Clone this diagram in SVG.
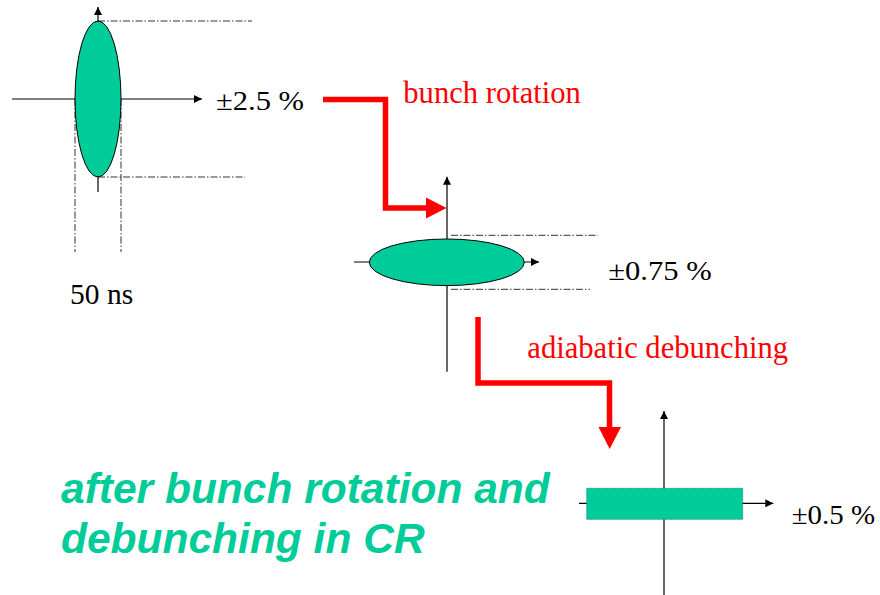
<svg xmlns="http://www.w3.org/2000/svg" width="880" height="595" viewBox="0 0 880 595">
<style>
.axis{stroke:#000;stroke-width:1.2;fill:none}
.dd{stroke:#333;stroke-width:1;stroke-dasharray:7 2 1.5 2;fill:none}
.bunch{fill:#00CC99;stroke:#000;stroke-width:1}
.lbl{font-family:"Liberation Serif","Times New Roman",serif;fill:#000}
.red{font-family:"Liberation Serif","Times New Roman",serif;fill:#FF0000;font-size:30.6px}
.flow{stroke:#FF0000;stroke-width:5.5;fill:none;stroke-linejoin:miter}
.head{fill:#FF0000}
.title{font-family:"Liberation Sans",Arial,sans-serif;font-weight:bold;font-style:italic;font-size:42.5px;fill:#00CC99}
</style>
<defs>
<marker id="ah" viewBox="0 0 8 8" refX="8" refY="4" markerWidth="8" markerHeight="8" markerUnits="userSpaceOnUse" orient="auto">
<path d="M0,0 L8,4 L0,8 Z" fill="#000"/>
</marker>
</defs>
<rect width="880" height="595" fill="#fff"/>

<g id="bunch-initial">
<line class="dd" x1="98" y1="21" x2="252" y2="21"/>
<line class="dd" x1="98" y1="177" x2="245" y2="177"/>
<line class="dd" x1="75" y1="99" x2="75" y2="252"/>
<line class="dd" x1="121" y1="99" x2="121" y2="252"/>
<line class="axis" x1="12" y1="99" x2="202" y2="99" marker-end="url(#ah)"/>
<line class="axis" x1="98" y1="192" x2="98" y2="7" marker-end="url(#ah)"/>
<ellipse class="bunch" cx="98" cy="99" rx="23" ry="78"/>
<text class="lbl" x="216" y="110" font-size="28" textLength="88" lengthAdjust="spacingAndGlyphs">±2.5 %</text>
<text class="lbl" x="70" y="304.3" font-size="29.5">50 ns</text>
</g>

<g id="bunch-rotated">
<line class="dd" x1="451" y1="235.3" x2="598" y2="235.3"/>
<line class="dd" x1="451" y1="289.3" x2="590" y2="289.3"/>
<line class="axis" x1="354" y1="262" x2="539" y2="262" marker-end="url(#ah)"/>
<line class="axis" x1="447" y1="371.7" x2="447" y2="176.7" marker-end="url(#ah)"/>
<ellipse class="bunch" cx="446.8" cy="262.3" rx="77.5" ry="23.3"/>
<text class="lbl" x="608.3" y="279.5" font-size="28" textLength="103.4" lengthAdjust="spacingAndGlyphs">±0.75 %</text>
</g>

<g id="bunch-debunched">
<line class="axis" x1="579" y1="503.3" x2="773.3" y2="503.3" marker-end="url(#ah)"/>
<line class="axis" x1="664" y1="595" x2="664" y2="411" marker-end="url(#ah)"/>
<rect x="586.7" y="488.3" width="156" height="31" fill="#00CC99" stroke="#008866" stroke-width="1" stroke-dasharray="1 1"/>
<text class="lbl" x="791.7" y="523.5" font-size="28" textLength="83.3" lengthAdjust="spacingAndGlyphs">±0.5 %</text>
</g>

<g id="connectors">
<polyline class="flow" points="323,99.5 385.5,99.5 385.5,208 428,208"/>
<polygon class="head" points="426,197.5 446.5,208 426,218.5"/>
<polyline class="flow" points="478,317 478,383 609.5,383 609.5,429"/>
<polygon class="head" points="598.5,427 621,427 609.7,449"/>
<text class="red" x="403.3" y="103.3">bunch rotation</text>
<text class="red" x="527.3" y="358.3">adiabatic debunching</text>
</g>

<g id="caption">
<text class="title" x="61" y="502.7">after bunch rotation and</text>
<text class="title" x="61" y="552.7">debunching in CR</text>
</g>
</svg>
